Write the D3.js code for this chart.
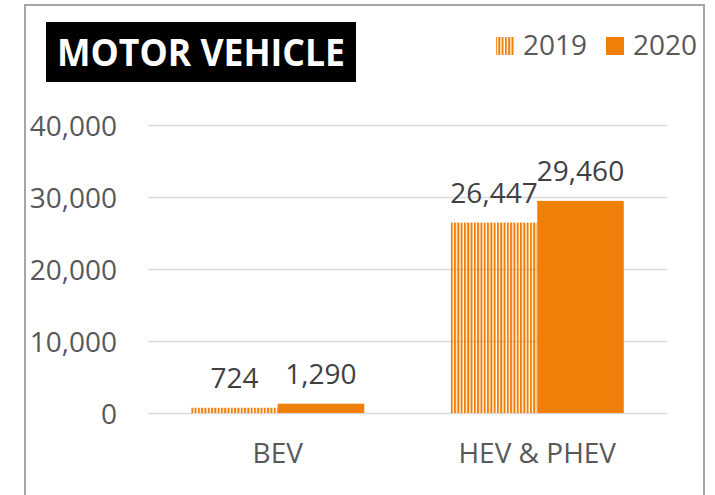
<!DOCTYPE html>
<html>
<head>
<meta charset="utf-8">
<script src="https://cdn.jsdelivr.net/npm/d3@7"></script>
<style>
  html, body { margin: 0; padding: 0; background: #fff; }
  svg { display: block; }
  text { font-family: "Open Sans", "DejaVu Sans", sans-serif; }
</style>
</head>
<body>
<svg id="chart" width="715" height="495"></svg>
<script>
// Vehicle counts by powertrain type
const categories = ["BEV", "HEV & PHEV"];
const seriesNames = ["2019", "2020"];
const values2019 = [724, 26447];
const values2020 = [1290, 29460];
const yTicks = [0, 10000, 20000, 30000, 40000];
const chartTitle = "MOTOR VEHICLE";

const orange = "#F07F0A";
const svg = d3.select("#chart");

// Vertical stripe fill for the 2019 series
const defs = svg.append("defs");
const pat = defs.append("pattern")
  .attr("id", "stripes")
  .attr("patternUnits", "userSpaceOnUse")
  .attr("width", 3.3).attr("height", 10);
pat.append("rect").attr("x", 0).attr("y", 0).attr("width", 2).attr("height", 10).attr("fill", orange);

// Outer frame
svg.append("rect")
  .attr("x", 25).attr("y", 5).attr("width", 679).attr("height", 530)
  .attr("fill", "#fff").attr("stroke", "#a6a6a6").attr("stroke-width", 2);

const plot = { left: 148, right: 667, top: 125, bottom: 413 };

const y = d3.scaleLinear().domain([0, 40000]).range([plot.bottom, plot.top]);
const x0 = d3.scaleBand().domain(categories).range([plot.left, plot.right])
  .paddingInner(1 / 3).paddingOuter(1 / 6);
const x1 = d3.scaleBand().domain(seriesNames).range([0, x0.bandwidth()]).padding(0);

// Gridlines and tick labels
const yAxis = d3.axisLeft(y).tickValues(yTicks).tickFormat(d3.format(",")).tickSize(0);
const gAxis = svg.append("g").attr("transform", `translate(${plot.left},0)`).call(yAxis);
gAxis.select(".domain").remove();
gAxis.selectAll(".tick line")
  .attr("x1", 0).attr("x2", plot.right - plot.left)
  .attr("stroke", "#d9d9d9").attr("stroke-width", 1.5);
gAxis.selectAll(".tick text")
  .attr("x", -31).attr("dy", "0.36em")
  .attr("font-size", 28).attr("fill", "#595959")
  .style("font-family", "'Open Sans', sans-serif");

// Bars
const rows = categories.map((c, i) => ({
  cat: c,
  vals: [
    { key: "2019", v: values2019[i] },
    { key: "2020", v: values2020[i] }
  ]
}));

const groups = svg.append("g").selectAll("g").data(rows).join("g")
  .attr("transform", d => `translate(${x0(d.cat)},0)`);

groups.selectAll("rect").data(d => d.vals).join("rect")
  .attr("x", d => x1(d.key))
  .attr("y", d => y(d.v))
  .attr("width", x1.bandwidth())
  .attr("height", d => y(0) - y(d.v))
  .attr("fill", d => d.key === "2019" ? "url(#stripes)" : orange);

// Value labels
groups.selectAll("text.val").data(d => d.vals).join("text")
  .attr("class", "val")
  .attr("x", d => x1(d.key) + x1.bandwidth() / 2)
  .attr("y", d => y(d.v) - 20)
  .attr("text-anchor", "middle")
  .attr("font-size", 28).attr("fill", "#404040")
  .text(d => d3.format(",")(d.v));

// Category labels
const xAxis = d3.axisBottom(x0).tickSize(0);
const gx = svg.append("g").attr("transform", `translate(0,${plot.bottom})`).call(xAxis);
gx.select(".domain").remove();
gx.selectAll(".tick text")
  .attr("y", 50).attr("dy", 0)
  .attr("font-size", 28).attr("fill", "#595959")
  .style("font-family", "'Open Sans', sans-serif");

// Title block
svg.append("rect").attr("x", 46).attr("y", 22).attr("width", 310).attr("height", 60).attr("fill", "#000");
svg.append("text")
  .attr("x", 57).attr("y", 66)
  .attr("font-size", 37).attr("font-weight", "bold").attr("fill", "#fff")
  .attr("textLength", 288).attr("lengthAdjust", "spacingAndGlyphs")
  .text(chartTitle);

// Legend
const legendItems = [
  { key: "2019", x: 496, fill: "url(#stripes)", tx: 523 },
  { key: "2020", x: 606, fill: orange, tx: 633 }
];
const lg = svg.append("g");
lg.selectAll("rect").data(legendItems).join("rect")
  .attr("x", d => d.x).attr("y", 37).attr("width", 18).attr("height", 18)
  .attr("fill", d => d.fill);
lg.selectAll("text").data(legendItems).join("text")
  .attr("x", d => d.tx).attr("y", 55)
  .attr("font-size", 28).attr("fill", "#595959")
  .text(d => d.key);
</script>
</body>
</html>
